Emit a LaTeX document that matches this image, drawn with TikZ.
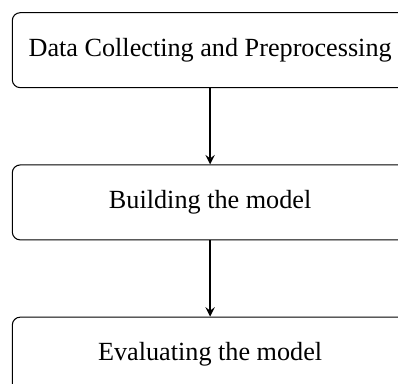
\documentclass[tikz,border=0pt]{standalone}
\usepackage{fontspec}
\setmainfont{Liberation Serif}
\usetikzlibrary{positioning}
\begin{document}
\begin{tikzpicture}[stage/.style={draw,rounded corners=3pt,minimum width=151pt,minimum height=28.6pt},node distance=29.1pt]
\useasboundingbox (0,0) rectangle (151.9pt,-146.2pt);
%boxes
\node[stage](collect)at(80.2pt,-19.15pt){Data Collecting and Preprocessing};
\node[stage,below=of collect](build){Building the model};
\node[stage,below=of build](eval){Evaluating the model};
%arrows
\foreach \a/\b in {collect/build,build/eval}{\draw[semithick,-stealth](\a)--(\b);}
\end{tikzpicture}
\end{document}
